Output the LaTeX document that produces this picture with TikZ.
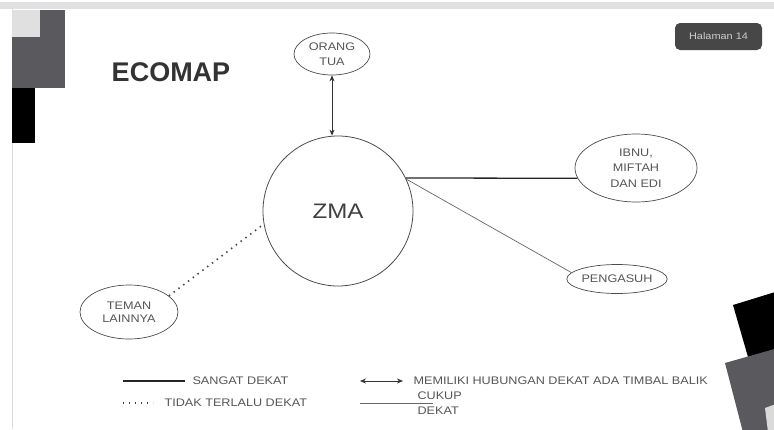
\documentclass[tikz,border=0pt]{standalone}
\usepackage{fontspec}
\setmainfont{Liberation Sans}
\newfontfamily\widesans[FakeStretch=1.15]{Liberation Sans}
\usetikzlibrary{arrows.meta,shapes.geometric}
\definecolor{darkg}{HTML}{5A5A5E}
\definecolor{lightg}{HTML}{DADADA}
\definecolor{txtg}{HTML}{555555}
\begin{document}
\begin{tikzpicture}[x=1pt,y=-1pt,
  ell/.style={draw=black!70, line width=0.7pt, ellipse, inner sep=0pt, text=txtg,
              font=\widesans\fontsize{11}{15.5}\selectfont, align=center},
  legtext/.style={anchor=west, text=txtg, font=\widesans\fontsize{11}{15}\selectfont, align=left},
  strong/.style={line width=1.3pt, draw=black!85},
  weak/.style={line width=0.7pt, draw=black!60},
  dots/.style={line width=1.6pt, draw=black!75, dash pattern=on 1.4pt off 4.6pt},
  both/.style={line width=0.8pt, draw=black!80, {Stealth[length=6pt,width=5pt]}-{Stealth[length=6pt,width=5pt]}}]
\useasboundingbox (0,0) rectangle (774,429);
\fill[white] (0,0) rectangle (774,429);
% frame decorations
\fill[lightg!80] (0,2) rectangle (774,9);
\draw[lightg, line width=0.8pt] (12,9) -- (12,429);
\fill[lightg!85] (12,10) rectangle (40,37);
\fill[darkg] (40,10) rectangle (65,88);
\fill[darkg] (12,37) rectangle (40,88);
\fill[black] (12,88) rectangle (35,143);
\fill[black] (733,305) -- (785,289) -- (795,345) -- (748,357) -- cycle;
\fill[darkg] (725,363) -- (785,346) -- (800,440) -- (745,440) -- cycle;
\fill[lightg] (765,408) -- (776,404) -- (776,432) -- (768,432) -- cycle;
% title and badge
\node[text=black!80, font=\fontsize{27}{30}\selectfont\bfseries] (title) at (171,72) {ECOMAP};
\node[fill=black!72, rounded corners=5pt, minimum width=87pt, minimum height=27pt,
      text=white!80!black, font=\widesans\fontsize{9.5}{11}\selectfont] (badge) at (718.5,36.5) {Halaman 14};
% nodes
\node[circle, draw=black!70, line width=0.8pt, minimum size=150pt, inner sep=0pt,
      text=black!75, font=\widesans\fontsize{21}{24}\selectfont] (zma) at (338,211) {ZMA};
\node[ell, minimum width=76pt, minimum height=42pt] (orang) at (332,54) {ORANG\\TUA};
\node[ell, minimum width=122pt, minimum height=68pt] (ibnu) at (636,168) {IBNU,\\MIFTAH\\DAN EDI};
\node[ell, minimum width=100pt, minimum height=29pt] (peng) at (617,279) {PENGASUH};
\node[ell, minimum width=98pt, minimum height=54pt, font=\widesans\fontsize{11}{13.5}\selectfont] (teman) at (129,312) {TEMAN\\LAINNYA};
% connectors
\draw[both] (orang.south) -- (orang.south |- zma.north);
\draw[strong] (zma.26) -- (ibnu.190);
\draw[weak] (zma.25) -- (peng.172);
\draw[dots] (teman.22) -- (zma.190);
% legend
\coordinate (la1) at (123,381); \coordinate (lb1) at (185,381);
\coordinate (la2) at (123,403); \coordinate (lb2) at (153,403);
\coordinate (la3) at (360,381); \coordinate (lb3) at (403,381);
\coordinate (la4) at (360,403); \coordinate (lb4) at (433,403);
\draw[strong] (la1) -- (lb1);
\draw[dots] (la2) -- (lb2);
\draw[both] (la3) -- (lb3);
\draw[weak] (la4) -- (lb4);
\node[legtext] (t1) at (189,381) {SANGAT DEKAT};
\node[legtext] (t2) at (161,403) {TIDAK TERLALU DEKAT};
\node[legtext] (t3) at (410,381) {MEMILIKI HUBUNGAN DEKAT ADA TIMBAL BALIK};
\node[legtext] (t4) at (414,403) {CUKUP\\DEKAT};
\end{tikzpicture}
\end{document}
